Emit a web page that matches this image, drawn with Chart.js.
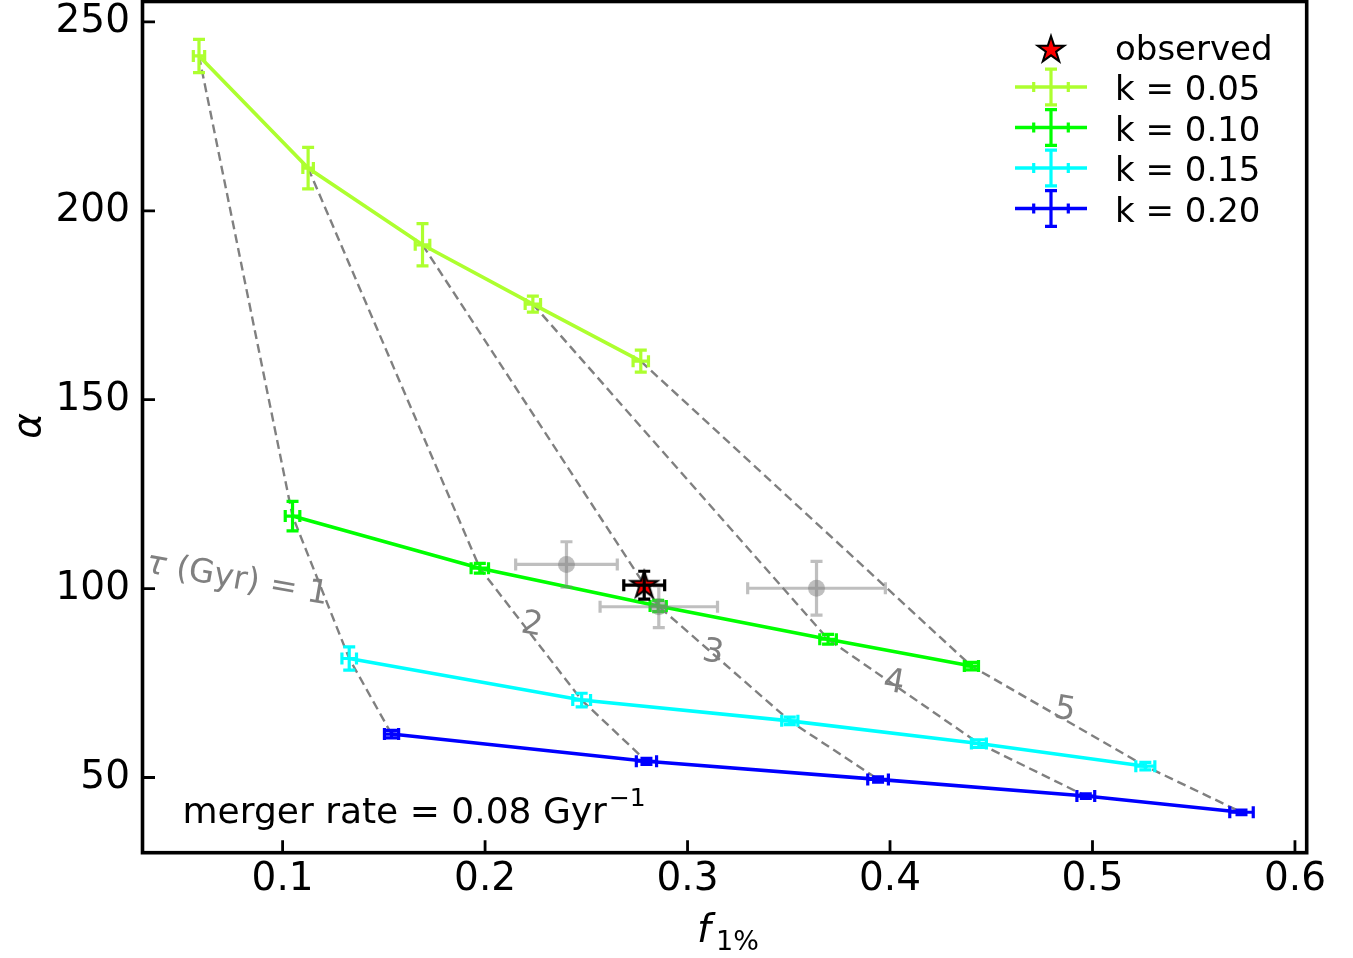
<!DOCTYPE html>
<html>
<head>
<meta charset="utf-8">
<script src="https://cdn.jsdelivr.net/npm/chart.js@4.4.1/dist/chart.umd.min.js"></script>
<style>
  html, body { margin: 0; padding: 0; background: #ffffff; }
  #wrap { width: 1353px; height: 958px; position: relative; }
</style>
</head>
<body>
<div id="wrap"><canvas id="c" width="1353" height="958"></canvas></div>
<script>
// ---- model tracks: one series per k, points ordered by tau = 1..5 Gyr ----
const seriesLabels = ['k = 0.05', 'k = 0.10', 'k = 0.15', 'k = 0.20'];
const seriesColors = ['#adff2f', '#00ff00', '#00ffff', '#0000ff'];

const k05X    = [0.0587, 0.1126, 0.1691, 0.2236, 0.2769];
const k05Y    = [241.0, 211.3, 191.0, 175.3, 160.2];
const k05XErr = [0.0028, 0.0026, 0.0036, 0.0038, 0.0038];
const k05YErr = [4.4, 5.5, 5.6, 2.1, 2.9];

const k10X    = [0.1049, 0.1974, 0.2855, 0.3694, 0.4402];
const k10Y    = [119.2, 105.4, 95.4, 86.6, 79.5];
const k10XErr = [0.0036, 0.0043, 0.0040, 0.0041, 0.0035];
const k10YErr = [3.9, 1.3, 1.5, 1.3, 1.0];

const k15X    = [0.1329, 0.2477, 0.3505, 0.4439, 0.5261];
const k15Y    = [81.5, 70.5, 65.0, 59.0, 53.0];
const k15XErr = [0.0036, 0.0044, 0.0040, 0.0037, 0.0047];
const k15YErr = [3.1, 1.8, 1.0, 1.0, 1.0];

const k20X    = [0.1538, 0.2797, 0.3941, 0.4967, 0.5736];
const k20Y    = [61.5, 54.3, 49.5, 45.1, 40.8];
const k20XErr = [0.0035, 0.0050, 0.0051, 0.0044, 0.0058];
const k20YErr = [1.0, 0.8, 0.7, 0.6, 0.6];

// ---- other measurements (grey) and the observed value (star) ----
const otherX    = [0.2402, 0.2858, 0.3637];
const otherY    = [106.4, 95.2, 100.1];
const otherXErr = [0.0251, 0.0290, 0.0340];
const otherYErr = [6.0, 5.5, 7.1];

const obsX = [0.2786];
const obsY = [100.9];
const obsXErr = [0.0101];
const obsYErr = [3.7];

// ---- tau labels along the iso-tau dashed lines ----
const tauLabelText = ['1', '2', '3', '4', '5'];
const tauLabelX = [0.0775, 0.2231, 0.3125, 0.4019, 0.4863];
const tauLabelY = [102.3, 90.3, 82.9, 75.0, 67.8];

// ---- axes ----
const xTickValues = [0.1, 0.2, 0.3, 0.4, 0.5, 0.6];
const xTickLabels = ['0.1', '0.2', '0.3', '0.4', '0.5', '0.6'];
const yTickValues = [50, 100, 150, 200, 250];
const yTickLabels = ['50', '100', '150', '200', '250'];
const xMin = 0.0308, xMax = 0.6058;
const yMin = 30.1, yMax = 255.4;

const FONT = "'DejaVu Sans', 'Liberation Sans', sans-serif";

const tracks = [
  { x: k05X, y: k05Y, ex: k05XErr, ey: k05YErr },
  { x: k10X, y: k10Y, ex: k10XErr, ey: k10YErr },
  { x: k15X, y: k15Y, ex: k15XErr, ey: k15YErr },
  { x: k20X, y: k20Y, ex: k20XErr, ey: k20YErr }
];

function toPoints(xs, ys) { return xs.map((v, i) => ({ x: v, y: ys[i] })); }

function starImage(r, fill, stroke, lw) {
  const size = Math.ceil(2 * r + 2 * lw + 4);
  const cv = document.createElement('canvas');
  cv.width = size; cv.height = size;
  const g = cv.getContext('2d');
  const c = size / 2;
  g.beginPath();
  for (let i = 0; i < 10; i++) {
    const a = -Math.PI / 2 + i * Math.PI / 5;
    const rr = (i % 2) ? r * 0.382 : r;
    g.lineTo(c + rr * Math.cos(a), c + rr * Math.sin(a));
  }
  g.closePath();
  g.fillStyle = fill; g.fill();
  g.lineWidth = lw; g.lineJoin = 'miter'; g.strokeStyle = stroke; g.stroke();
  return cv;
}
const starMarker = starImage(14, '#ff0000', '#000000', 2);

const LINE_W = 3.6;
const ERR_W = 3.2;
const CAP = 6;

const datasets = [];

// observed value
datasets.push({
  label: 'observed',
  data: toPoints(obsX, obsY),
  showLine: false,
  pointStyle: starMarker,
  pointRadius: 14,
  order: 0,
  errX: obsXErr, errY: obsYErr, errColor: '#000000', errWidth: ERR_W
});

// grey comparison measurements
datasets.push({
  label: 'others',
  data: toPoints(otherX, otherY),
  showLine: false,
  pointStyle: 'circle',
  pointRadius: 8.5,
  pointBackgroundColor: 'rgba(128,128,128,0.5)',
  pointBorderWidth: 0,
  order: 1,
  errX: otherXErr, errY: otherYErr, errColor: 'rgba(128,128,128,0.5)', errWidth: ERR_W,
  errFirst: true
});

// k tracks
tracks.forEach((t, i) => {
  datasets.push({
    label: seriesLabels[i],
    data: toPoints(t.x, t.y),
    showLine: true,
    borderColor: seriesColors[i],
    borderWidth: LINE_W,
    tension: 0,
    pointRadius: 0,
    order: 2 + i,
    errX: t.ex, errY: t.ey, errColor: seriesColors[i], errWidth: ERR_W
  });
});

// iso-tau dashed lines joining the same tau on each track
for (let j = 0; j < tauLabelText.length; j++) {
  datasets.push({
    label: 'tau ' + tauLabelText[j],
    data: tracks.map(t => ({ x: t.x[j], y: t.y[j] })),
    showLine: true,
    borderColor: '#808080',
    borderWidth: 2.4,
    borderDash: [9, 5],
    tension: 0,
    pointRadius: 0,
    order: 10
  });
}

function drawErrBars(ctx, xs, ys, points, ds) {
  ctx.save();
  ctx.strokeStyle = ds.errColor;
  ctx.lineWidth = ds.errWidth;
  ctx.lineCap = 'butt';
  points.forEach((p, i) => {
    const px = xs.getPixelForValue(p.x), py = ys.getPixelForValue(p.y);
    const x0 = xs.getPixelForValue(p.x - ds.errX[i]), x1 = xs.getPixelForValue(p.x + ds.errX[i]);
    const y0 = ys.getPixelForValue(p.y - ds.errY[i]), y1 = ys.getPixelForValue(p.y + ds.errY[i]);
    ctx.beginPath();
    ctx.moveTo(x0, py); ctx.lineTo(x1, py);
    ctx.moveTo(x0, py - CAP); ctx.lineTo(x0, py + CAP);
    ctx.moveTo(x1, py - CAP); ctx.lineTo(x1, py + CAP);
    ctx.moveTo(px, y0); ctx.lineTo(px, y1);
    ctx.moveTo(px - CAP, y0); ctx.lineTo(px + CAP, y0);
    ctx.moveTo(px - CAP, y1); ctx.lineTo(px + CAP, y1);
    ctx.stroke();
  });
  ctx.restore();
}

const errorBarPlugin = {
  id: 'errorBars',
  beforeDatasetDraw(chart, args) {
    const ds = chart.data.datasets[args.index];
    if (!ds.errX || !ds.errFirst) return;
    drawErrBars(chart.ctx, chart.scales.x, chart.scales.y, ds.data, ds);
  },
  afterDatasetDraw(chart, args) {
    const ds = chart.data.datasets[args.index];
    if (!ds.errX || ds.errFirst) return;
    drawErrBars(chart.ctx, chart.scales.x, chart.scales.y, ds.data, ds);
  }
};

const decorPlugin = {
  id: 'decor',
  afterDatasetsDraw(chart) {
    const ctx = chart.ctx, xs = chart.scales.x, ys = chart.scales.y;
    const rot = 10 * Math.PI / 180;
    ctx.save();
    ctx.fillStyle = '#808080';
    ctx.textBaseline = 'middle';
    ctx.textAlign = 'left';
    tauLabelText.forEach((txt, j) => {
      const px = xs.getPixelForValue(tauLabelX[j]);
      const py = ys.getPixelForValue(tauLabelY[j]);
      ctx.save();
      ctx.translate(px, py);
      ctx.rotate(rot);
      if (j === 0) {
        const fi = 'italic 33px ' + FONT, fn = '33px ' + FONT;
        ctx.font = fi; const w1 = ctx.measureText('τ').width;
        ctx.font = fn; const rest = ' (Gyr) = ' + txt; const w2 = ctx.measureText(rest).width;
        let x0 = -(w1 + w2) / 2;
        ctx.font = fi; ctx.fillText('τ', x0, 0);
        ctx.font = fn; ctx.fillText(rest, x0 + w1, 0);
      } else {
        ctx.font = '33px ' + FONT;
        ctx.textAlign = 'center';
        ctx.fillText(txt, 0, 0);
      }
      ctx.restore();
    });
    ctx.restore();
  },
  afterDraw(chart) {
    const ctx = chart.ctx, a = chart.chartArea, xs = chart.scales.x, ys = chart.scales.y;
    ctx.save();
    // inward ticks
    ctx.strokeStyle = '#000'; ctx.lineWidth = 2.8;
    ctx.beginPath();
    xTickValues.forEach(v => { const p = xs.getPixelForValue(v); ctx.moveTo(p, a.bottom); ctx.lineTo(p, a.bottom - 12.5); });
    yTickValues.forEach(v => { const p = ys.getPixelForValue(v); ctx.moveTo(a.left, p); ctx.lineTo(a.left + 12.5, p); });
    ctx.stroke();
    // frame
    ctx.lineWidth = 3.6;
    ctx.strokeRect(a.left, a.top, a.right - a.left, a.bottom - a.top);

    // merger rate note
    ctx.fillStyle = '#000';
    ctx.textBaseline = 'alphabetic';
    ctx.textAlign = 'left';
    ctx.font = '36px ' + FONT;
    const note = 'merger rate = 0.08 Gyr';
    ctx.fillText(note, a.left + 40, 823);
    const nw = ctx.measureText(note).width;
    ctx.font = '25px ' + FONT;
    ctx.fillText('−1', a.left + 40 + nw + 2, 806);

    // axis titles
    ctx.font = 'italic 39px ' + FONT;
    ctx.textAlign = 'left';
    ctx.fillText('f', 697, 942);
    ctx.font = '27px ' + FONT;
    ctx.fillText('1%', 716, 950);

    ctx.save();
    ctx.translate(40, 426);
    ctx.rotate(-Math.PI / 2);
    ctx.font = 'italic 39px ' + FONT;
    ctx.textAlign = 'center';
    ctx.fillText('α', 0, 0);
    ctx.restore();

    // legend
    const lx0 = 1015, lx1 = 1087, lc = 1051, tx = 1115;
    const rowY = [50, 87, 127.5, 168, 208.5];
    ctx.drawImage(starMarker, lc - starMarker.width / 2, rowY[0] - starMarker.height / 2);
    ctx.font = '34px ' + FONT;
    ctx.fillStyle = '#000';
    ctx.fillText('observed', tx, rowY[0] + 10);
    seriesLabels.forEach((lab, i) => {
      const y = rowY[i + 1];
      ctx.strokeStyle = seriesColors[i];
      ctx.lineWidth = LINE_W;
      ctx.beginPath(); ctx.moveTo(lx0, y); ctx.lineTo(lx1, y); ctx.stroke();
      ctx.lineWidth = ERR_W;
      ctx.beginPath();
      ctx.moveTo(lc, y - 17.8); ctx.lineTo(lc, y + 17.8);
      ctx.moveTo(lc - CAP, y - 17.8); ctx.lineTo(lc + CAP, y - 17.8);
      ctx.moveTo(lc - CAP, y + 17.8); ctx.lineTo(lc + CAP, y + 17.8);
      ctx.moveTo(lc - 17.3, y - 5); ctx.lineTo(lc - 17.3, y + 5);
      ctx.moveTo(lc + 17.3, y - 5); ctx.lineTo(lc + 17.3, y + 5);
      ctx.stroke();
      ctx.fillStyle = '#000';
      ctx.fillText(lab, tx, y + 13);
    });
    ctx.restore();
  }
};

new Chart(document.getElementById('c'), {
  type: 'scatter',
  data: { datasets },
  options: {
    responsive: false,
    devicePixelRatio: 1,
    animation: false,
    layout: { autoPadding: false, padding: { top: 1.5, right: 46.3, left: 0, bottom: 0 } },
    plugins: { legend: { display: false }, tooltip: { enabled: false } },
    scales: {
      x: {
        type: 'linear', position: 'bottom', min: xMin, max: xMax,
        afterBuildTicks: s => { s.ticks = xTickValues.map(v => ({ value: v })); },
        afterFit: s => { s.height = 105.3; s.paddingLeft = 0; s.paddingRight = 0; },
        grid: { display: false, drawTicks: false },
        border: { display: false },
        ticks: {
          padding: 4, color: '#000', maxRotation: 0, autoSkip: false,
          font: { family: FONT, size: 39 },
          callback: (v) => { const i = xTickValues.findIndex(t => Math.abs(t - v) < 1e-9); return i >= 0 ? xTickLabels[i] : ''; }
        }
      },
      y: {
        type: 'linear', position: 'left', min: yMin, max: yMax,
        afterBuildTicks: s => { s.ticks = yTickValues.map(v => ({ value: v })); },
        afterFit: s => { s.width = 142.5; s.paddingTop = 0; s.paddingBottom = 0; },
        grid: { display: false, drawTicks: false },
        border: { display: false },
        ticks: {
          padding: 12.5, color: '#000', autoSkip: false,
          font: { family: FONT, size: 39 },
          callback: (v) => { const i = yTickValues.findIndex(t => Math.abs(t - v) < 1e-9); return i >= 0 ? yTickLabels[i] : ''; }
        }
      }
    }
  },
  plugins: [errorBarPlugin, decorPlugin]
});
</script>
</body>
</html>
